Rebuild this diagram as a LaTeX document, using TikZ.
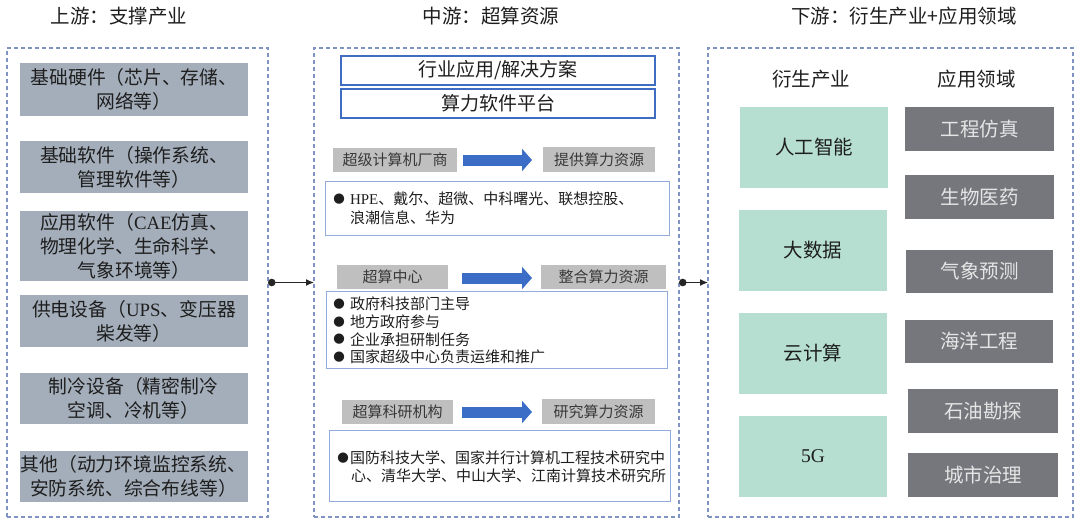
\documentclass[tikz,border=0pt]{standalone}
\usepackage{fontspec}
\setmainfont{Liberation Serif}
\newfontfamily\cjk{Noto Sans CJK SC}
\usetikzlibrary{arrows.meta}
\definecolor{dashc}{HTML}{8094C4}
\definecolor{leftfill}{HTML}{A4AEBA}
\definecolor{grayfill}{HTML}{BFBFBF}
\definecolor{hdrblue}{HTML}{3F6DC2}
\definecolor{txtborder}{HTML}{92ABDB}
\definecolor{greenfill}{HTML}{B6DFD1}
\definecolor{darkfill}{HTML}{76777D}
\definecolor{arrowblue}{HTML}{3B6CC6}
\definecolor{txt}{HTML}{1E1E1E}
\begin{document}
\begin{tikzpicture}[x=1pt,y=-1pt,
  every node/.style={inner sep=0pt, outer sep=0pt, text=txt, font=\cjk\fontsize{19}{23.5}\selectfont},
  title/.style={font=\cjk\fontsize{19.5}{23}\selectfont},
  panel/.style={draw=dashc, line width=1.2pt, dash pattern=on 4pt off 3pt, minimum height=469, minimum width=#1},
  leftbox/.style={fill=leftfill, minimum width=228, align=center, font=\cjk\fontsize{18.8}{24}\selectfont},
  hdrbox/.style={draw=hdrblue, line width=1.8pt, minimum width=314, minimum height=29},
  graybox/.style={fill=grayfill, minimum height=24, text=black!78, font=\cjk\fontsize{15}{18}\selectfont},
  txtbox/.style={draw=txtborder, line width=0.9pt},
  ln/.style={anchor=west, font=\cjk\fontsize{15}{18}\selectfont},
  bul/.style={font=\cjk\fontsize{11.5}{12}\selectfont},
  bigarrow/.style={draw=arrowblue, line width=11pt, -{Triangle[length=10pt,width=22pt]}},
  greenbox/.style={fill=greenfill, minimum width=148, minimum height=81, font=\cjk\fontsize{19.5}{23}\selectfont},
  darkbox/.style={fill=darkfill, minimum height=43.5, text=white!90!black, font=\cjk\fontsize{19.5}{23}\selectfont},
  link/.style={draw=black!85, line width=1.2pt, {Circle[length=7.5pt]}-{Latex[length=8pt,width=7pt]}}
]
\useasboundingbox (0,0) rectangle (1080,523);

% titles
\node[title] (t1) at (119,16) {上游：支撑产业};
\node[title] (t2) at (491,16) {中游：超算资源};
\node[title] (t3) at (904,16) {下游：衍生产业+应用领域};

% panels
\node[panel=261] (lp) at (137.5,282.5) {};
\node[panel=365] (mp) at (496.5,282.5) {};
\node[panel=365] (rp) at (890.5,282.5) {};

% left boxes
\node[leftbox, minimum height=53] (b1) at (134,89.5) {基础硬件（芯片、存储、\\网络等）};
\node[leftbox, minimum height=52] (b2) at (134,167) {基础软件（操作系统、\\管理软件等）};
\node[leftbox, minimum height=70] (b3) at (134,246) {应用软件（{\rmfamily CAE}仿真、\\物理化学、生命科学、\\气象环境等）};
\node[leftbox, minimum height=52] (b4) at (134,321) {供电设备（{\rmfamily UPS}、变压器\\柴发等）};
\node[leftbox, minimum height=51] (b5) at (133.5,398.5) {制冷设备（精密制冷\\空调、冷机等）};
\node[leftbox, minimum height=51] (b6) at (133.5,476.5) {其他（动力环境监控系统、\\安防系统、综合布线等）};

% middle headers
\node[hdrbox] (h1) at (498,70.5) {行业应用/解决方案};
\node[hdrbox] (h2) at (498,103.5) {算力软件平台};

% row 1
\node[graybox, minimum width=124] (l1) at (395,160) {超级计算机厂商};
\node[graybox, minimum width=112, minimum height=25] (r1) at (599,159.5) {提供算力资源};
\coordinate (a1s) at (463,160);
\coordinate (a1e) at (532,160);
\draw[bigarrow] (a1s) -- (a1e);
\node[txtbox, minimum width=344, minimum height=54] (tb1) at (497,208) {};
\node[bul] (u11) at (339,199) {●};
\node[ln] (x11) at (350,199) {{\rmfamily HPE}、戴尔、超微、中科曙光、联想控股、};
\node[ln] (x12) at (350,218) {浪潮信息、华为};

% row 2
\node[graybox, minimum width=111] (l2) at (392.5,277) {超算中心};
\node[graybox, minimum width=125] (r2) at (603.5,277) {整合算力资源};
\coordinate (a2s) at (462,278);
\coordinate (a2e) at (532,278);
\draw[bigarrow] (a2s) -- (a2e);
\node[txtbox, minimum width=341, minimum height=77] (tb2) at (496.5,329.5) {};
\node[bul] (u21) at (339,304) {●};
\node[ln] (x21) at (350,304) {政府科技部门主导};
\node[bul] (u22) at (339,322) {●};
\node[ln] (x22) at (350,322) {地方政府参与};
\node[bul] (u23) at (339,339.5) {●};
\node[ln] (x23) at (350,339.5) {企业承担研制任务};
\node[bul] (u24) at (339,357) {●};
\node[ln] (x24) at (350,357) {国家超级中心负责运维和推广};

% row 3
\node[graybox, minimum width=111] (l3) at (397.5,412) {超算科研机构};
\node[graybox, minimum width=113, minimum height=25] (r3) at (598.5,411.5) {研究算力资源};
\coordinate (a3s) at (462,412);
\coordinate (a3e) at (532,412);
\draw[bigarrow] (a3s) -- (a3e);
\node[txtbox, minimum width=341, minimum height=71] (tb3) at (499.5,465.5) {};
\node[bul] (u31) at (343,458) {●};
\node[ln] (x31) at (350,458) {国防科技大学、国家并行计算机工程技术研究中};
\node[ln] (x32) at (351,476) {心、清华大学、中山大学、江南计算技术研究所};

% right panel
\node[title] (s1) at (811,79) {衍生产业};
\node[title] (s2) at (976.5,79) {应用领域};
\node[greenbox] (g1) at (814,147.5) {人工智能};
\node[greenbox] (g2) at (813,250) {大数据};
\node[greenbox] (g3) at (813,353.5) {云计算};
\node[greenbox] (g4) at (813,456.5) {\rmfamily 5G};
\node[darkbox, minimum width=149] (d1) at (979.5,129) {工程仿真};
\node[darkbox, minimum width=149] (d2) at (979.5,197) {生物医药};
\node[darkbox, minimum width=147] (d3) at (979.5,271.5) {气象预测};
\node[darkbox, minimum width=148] (d4) at (979,341.5) {海洋工程};
\node[darkbox, minimum width=150] (d5) at (983,411) {石油勘探};
\node[darkbox, minimum width=150] (d6) at (983,475) {城市治理};

% connectors
\draw[link] (lp.east) -- (mp.west);
\draw[link] (mp.east) -- (rp.west);
\end{tikzpicture}
\end{document}
